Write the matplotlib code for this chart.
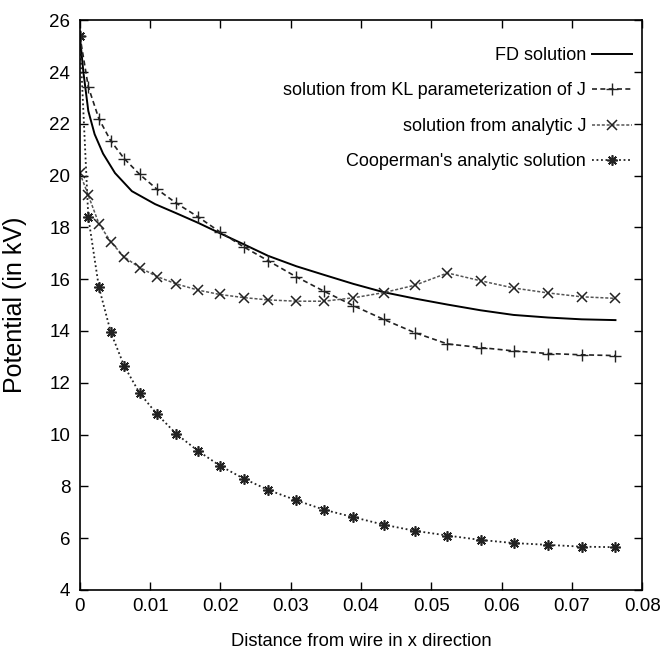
import matplotlib
matplotlib.use("Agg")
import matplotlib.pyplot as plt

plt.rcParams['font.family'] = ['Liberation Sans', 'DejaVu Sans']

# grid of distances from the wire (shared by the three marked series)
distance = [0.0, 0.0012, 0.0027, 0.0044, 0.0063, 0.0085, 0.0110, 0.0137,
            0.0168, 0.0199, 0.0233, 0.0268, 0.0308, 0.0347, 0.0389, 0.0432,
            0.0477, 0.0523, 0.0570, 0.0617, 0.0666, 0.0714, 0.0762]

# FD solution is a smooth line on its own, finer grid near the wire
fd_distance = [0.0, 0.0005, 0.0012, 0.0021, 0.0033, 0.0050, 0.0074, 0.0107,
               0.0137, 0.0168, 0.0199, 0.0233, 0.0268, 0.0308, 0.0347, 0.0389,
               0.0432, 0.0477, 0.0523, 0.0570, 0.0617, 0.0666, 0.0714, 0.0762]
fd_solution = [25.4, 24.0, 22.5, 21.6, 20.85, 20.1, 19.4, 18.9,
               18.55, 18.18, 17.78, 17.35, 16.9, 16.5, 16.17, 15.82,
               15.5, 15.25, 15.02, 14.8, 14.62, 14.52, 14.45, 14.42]

kl_solution = [25.4, 23.43, 22.2, 21.34, 20.66, 20.05, 19.47, 18.94,
               18.41, 17.83, 17.25, 16.71, 16.09, 15.54, 14.98, 14.45,
               13.93, 13.5, 13.36, 13.23, 13.13, 13.08, 13.05]

analytic_j = [20.1, 19.24, 18.15, 17.44, 16.86, 16.45, 16.1, 15.82,
              15.58, 15.41, 15.29, 15.2, 15.15, 15.15, 15.28, 15.48,
              15.77, 16.24, 15.94, 15.66, 15.47, 15.32, 15.26]

cooperman = [25.4, 18.4, 15.7, 13.95, 12.65, 11.6, 10.78, 10.03,
             9.37, 8.8, 8.3, 7.86, 7.46, 7.1, 6.81, 6.52,
             6.28, 6.1, 5.93, 5.81, 5.74, 5.67, 5.65]

xticks = [0, 0.01, 0.02, 0.03, 0.04, 0.05, 0.06, 0.07, 0.08]
xtick_labels = ['0', '0.01', '0.02', '0.03', '0.04', '0.05', '0.06', '0.07', '0.08']

fig = plt.figure(figsize=(6.6, 6.54), dpi=100)
ax = fig.add_axes([0.121, 0.098, 0.852, 0.871])

ax.plot(fd_distance, fd_solution, color='black', linewidth=1.4,
        label='FD solution')
ax.plot(distance, kl_solution, color='#222222', linewidth=1.2,
        linestyle=(0, (3, 2)), marker='+', markersize=8, markeredgewidth=1.0,
        label='solution from KL parameterization of J')
ax.plot(distance, analytic_j, color='#555555', linewidth=1.1,
        linestyle=(0, (2, 1.2)), marker='x', markersize=6.5, markeredgewidth=1.1,
        markeredgecolor='#222222',
        label='solution from analytic J')
ax.plot(distance, cooperman, color='#222222', linewidth=1.3,
        linestyle=(0, (1, 1.5)), marker=(8, 2, 0), markersize=7.5,
        markeredgewidth=1.2,
        label="Cooperman's analytic solution")

ax.set_xlim(0, 0.08)
ax.set_ylim(4, 26)
ax.set_xticks(xticks)
ax.set_xticklabels(xtick_labels)
ax.set_yticks(range(4, 27, 2))

ax.tick_params(direction='in', length=6, width=1, top=True, right=True,
               labelsize=13.5)
ax.tick_params(axis='x', pad=6)
ax.tick_params(axis='y', pad=7)
for spine in ax.spines.values():
    spine.set_linewidth(1.2)

ax.set_xlabel('Distance from wire in x direction', fontsize=13.2, labelpad=13)
ax.set_ylabel('Potential (in kV)', fontsize=18, labelpad=16)

ax.legend(loc='upper right', bbox_to_anchor=(0.982, 0.953), frameon=False,
          markerfirst=False, fontsize=13, handlelength=2.2,
          handletextpad=0.35, labelspacing=1.02, borderpad=0, borderaxespad=0)

fig.savefig('out.png', dpi=100)
